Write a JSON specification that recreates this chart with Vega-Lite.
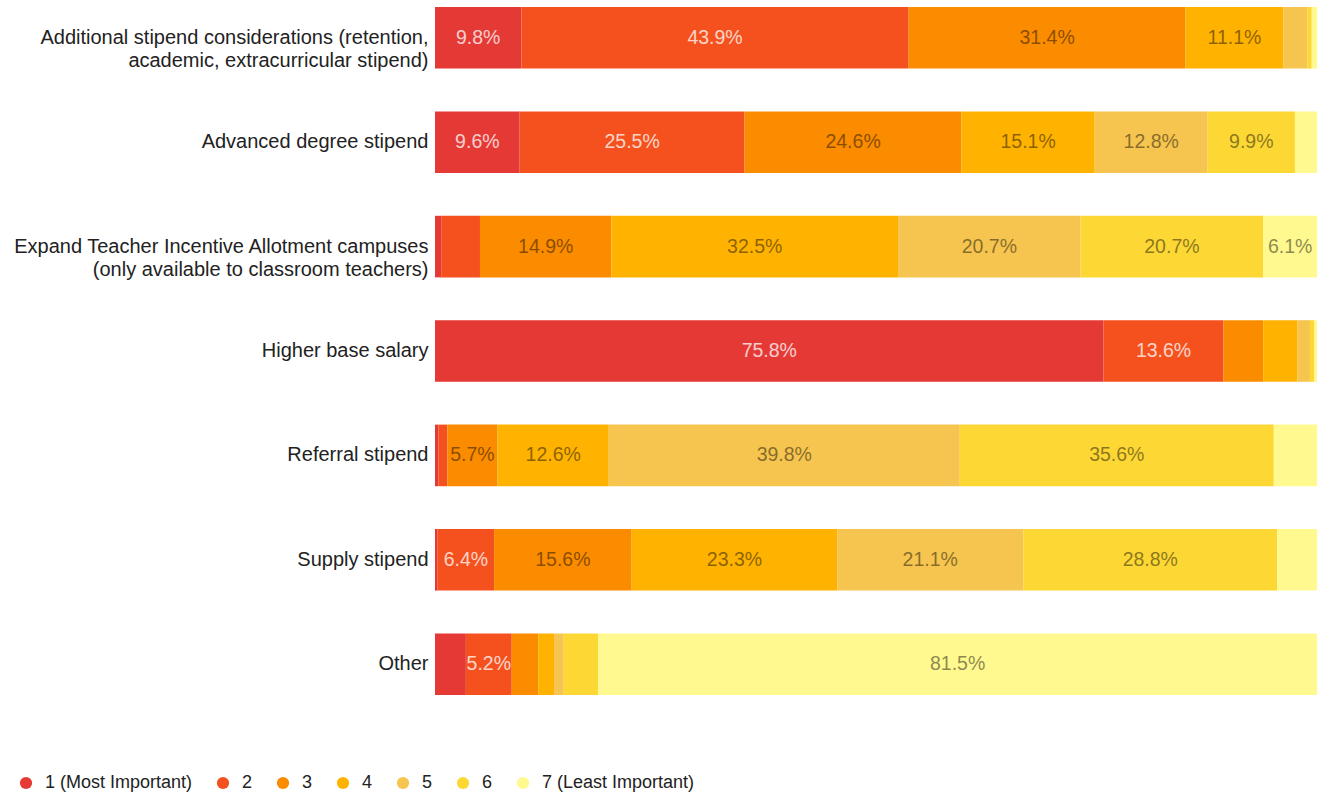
{
  "$schema": "https://vega.github.io/schema/vega-lite/v6.json",
  "width": 882,
  "height": 702,
  "autosize": {"type": "none"},
  "padding": {"left": 435, "top": 0, "right": 2, "bottom": 93},
  "background": "white",
  "config": {"view": {"stroke": null}, "font": "Liberation Sans"},
  "data": {"values": [
    {"item": "Additional stipend considerations (retention, academic, extracurricular stipend)", "rank": "1 (Most Important)", "value": 9.8},
    {"item": "Additional stipend considerations (retention, academic, extracurricular stipend)", "rank": "2", "value": 43.9},
    {"item": "Additional stipend considerations (retention, academic, extracurricular stipend)", "rank": "3", "value": 31.4},
    {"item": "Additional stipend considerations (retention, academic, extracurricular stipend)", "rank": "4", "value": 11.1},
    {"item": "Additional stipend considerations (retention, academic, extracurricular stipend)", "rank": "5", "value": 2.7},
    {"item": "Additional stipend considerations (retention, academic, extracurricular stipend)", "rank": "6", "value": 0.5},
    {"item": "Additional stipend considerations (retention, academic, extracurricular stipend)", "rank": "7 (Least Important)", "value": 0.6},
    {"item": "Advanced degree stipend", "rank": "1 (Most Important)", "value": 9.6},
    {"item": "Advanced degree stipend", "rank": "2", "value": 25.5},
    {"item": "Advanced degree stipend", "rank": "3", "value": 24.6},
    {"item": "Advanced degree stipend", "rank": "4", "value": 15.1},
    {"item": "Advanced degree stipend", "rank": "5", "value": 12.8},
    {"item": "Advanced degree stipend", "rank": "6", "value": 9.9},
    {"item": "Advanced degree stipend", "rank": "7 (Least Important)", "value": 2.5},
    {"item": "Expand Teacher Incentive Allotment campuses (only available to classroom teachers)", "rank": "1 (Most Important)", "value": 0.7},
    {"item": "Expand Teacher Incentive Allotment campuses (only available to classroom teachers)", "rank": "2", "value": 4.4},
    {"item": "Expand Teacher Incentive Allotment campuses (only available to classroom teachers)", "rank": "3", "value": 14.9},
    {"item": "Expand Teacher Incentive Allotment campuses (only available to classroom teachers)", "rank": "4", "value": 32.5},
    {"item": "Expand Teacher Incentive Allotment campuses (only available to classroom teachers)", "rank": "5", "value": 20.7},
    {"item": "Expand Teacher Incentive Allotment campuses (only available to classroom teachers)", "rank": "6", "value": 20.7},
    {"item": "Expand Teacher Incentive Allotment campuses (only available to classroom teachers)", "rank": "7 (Least Important)", "value": 6.1},
    {"item": "Higher base salary", "rank": "1 (Most Important)", "value": 75.8},
    {"item": "Higher base salary", "rank": "2", "value": 13.6},
    {"item": "Higher base salary", "rank": "3", "value": 4.5},
    {"item": "Higher base salary", "rank": "4", "value": 3.9},
    {"item": "Higher base salary", "rank": "5", "value": 1.4},
    {"item": "Higher base salary", "rank": "6", "value": 0.5},
    {"item": "Higher base salary", "rank": "7 (Least Important)", "value": 0.3},
    {"item": "Referral stipend", "rank": "1 (Most Important)", "value": 0.4},
    {"item": "Referral stipend", "rank": "2", "value": 1.0},
    {"item": "Referral stipend", "rank": "3", "value": 5.7},
    {"item": "Referral stipend", "rank": "4", "value": 12.6},
    {"item": "Referral stipend", "rank": "5", "value": 39.8},
    {"item": "Referral stipend", "rank": "6", "value": 35.6},
    {"item": "Referral stipend", "rank": "7 (Least Important)", "value": 4.9},
    {"item": "Supply stipend", "rank": "1 (Most Important)", "value": 0.3},
    {"item": "Supply stipend", "rank": "2", "value": 6.4},
    {"item": "Supply stipend", "rank": "3", "value": 15.6},
    {"item": "Supply stipend", "rank": "4", "value": 23.3},
    {"item": "Supply stipend", "rank": "5", "value": 21.1},
    {"item": "Supply stipend", "rank": "6", "value": 28.8},
    {"item": "Supply stipend", "rank": "7 (Least Important)", "value": 4.5},
    {"item": "Other", "rank": "1 (Most Important)", "value": 3.5},
    {"item": "Other", "rank": "2", "value": 5.2},
    {"item": "Other", "rank": "3", "value": 3.0},
    {"item": "Other", "rank": "4", "value": 1.8},
    {"item": "Other", "rank": "5", "value": 1.1},
    {"item": "Other", "rank": "6", "value": 3.9},
    {"item": "Other", "rank": "7 (Least Important)", "value": 81.5}
  ]},
  "encoding": {
    "y": {
      "field": "item", "type": "nominal", "sort": null, "title": null,
      "scale": {"paddingInner": 0.41, "paddingOuter": 0.067},
      "axis": {
        "domain": false, "ticks": false, "labelPadding": 7, "labelFontSize": 20, "labelColor": "#222222",
        "labelLimit": 440, "labelLineHeight": 23,
        "labelExpr": "datum.value == 'Additional stipend considerations (retention, academic, extracurricular stipend)' ? ['Additional stipend considerations (retention,', 'academic, extracurricular stipend)'] : datum.value == 'Expand Teacher Incentive Allotment campuses (only available to classroom teachers)' ? ['Expand Teacher Incentive Allotment campuses', '(only available to classroom teachers)'] : datum.value"
      }
    }
  },
  "layer": [
    {
      "mark": {"type": "bar"},
      "encoding": {
        "x": {"field": "value", "type": "quantitative", "stack": "zero", "scale": {"domain": [0, 100], "nice": false}, "axis": null},
        "order": {"field": "rank"},
        "color": {
          "field": "rank", "type": "nominal", "title": null,
          "scale": {
            "domain": ["1 (Most Important)", "2", "3", "4", "5", "6", "7 (Least Important)"],
            "range": ["#e53935", "#f4511e", "#fb8c00", "#ffb300", "#f6c54f", "#fdd835", "#fff98f"]
          },
          "legend": {
            "orient": "none", "legendX": -418, "legendY": 774, "direction": "horizontal",
            "symbolType": "circle", "symbolSize": 150, "symbolStrokeWidth": 0,
            "labelFontSize": 18, "labelColor": "#222222", "columnPadding": 21, "labelOffset": 10
          }
        }
      }
    },
    {
      "mark": {
        "type": "text", "fontSize": 19.5, "baseline": "middle", "align": "center",
        "text": {"expr": "datum.value >= 5 ? format(datum.value, '.1f') + '%' : ''"}
      },
      "encoding": {
        "x": {"field": "value", "type": "quantitative", "stack": "zero", "bandPosition": 0.5},
        "order": {"field": "rank"},
        "color": {"condition": {"test": "datum.rank == '1 (Most Important)' || datum.rank == '2'", "value": "#ffffff"}, "value": "#000000"},
        "opacity": {"condition": {"test": "datum.rank == '1 (Most Important)' || datum.rank == '2'", "value": 0.75}, "value": 0.45}
      }
    }
  ]
}
